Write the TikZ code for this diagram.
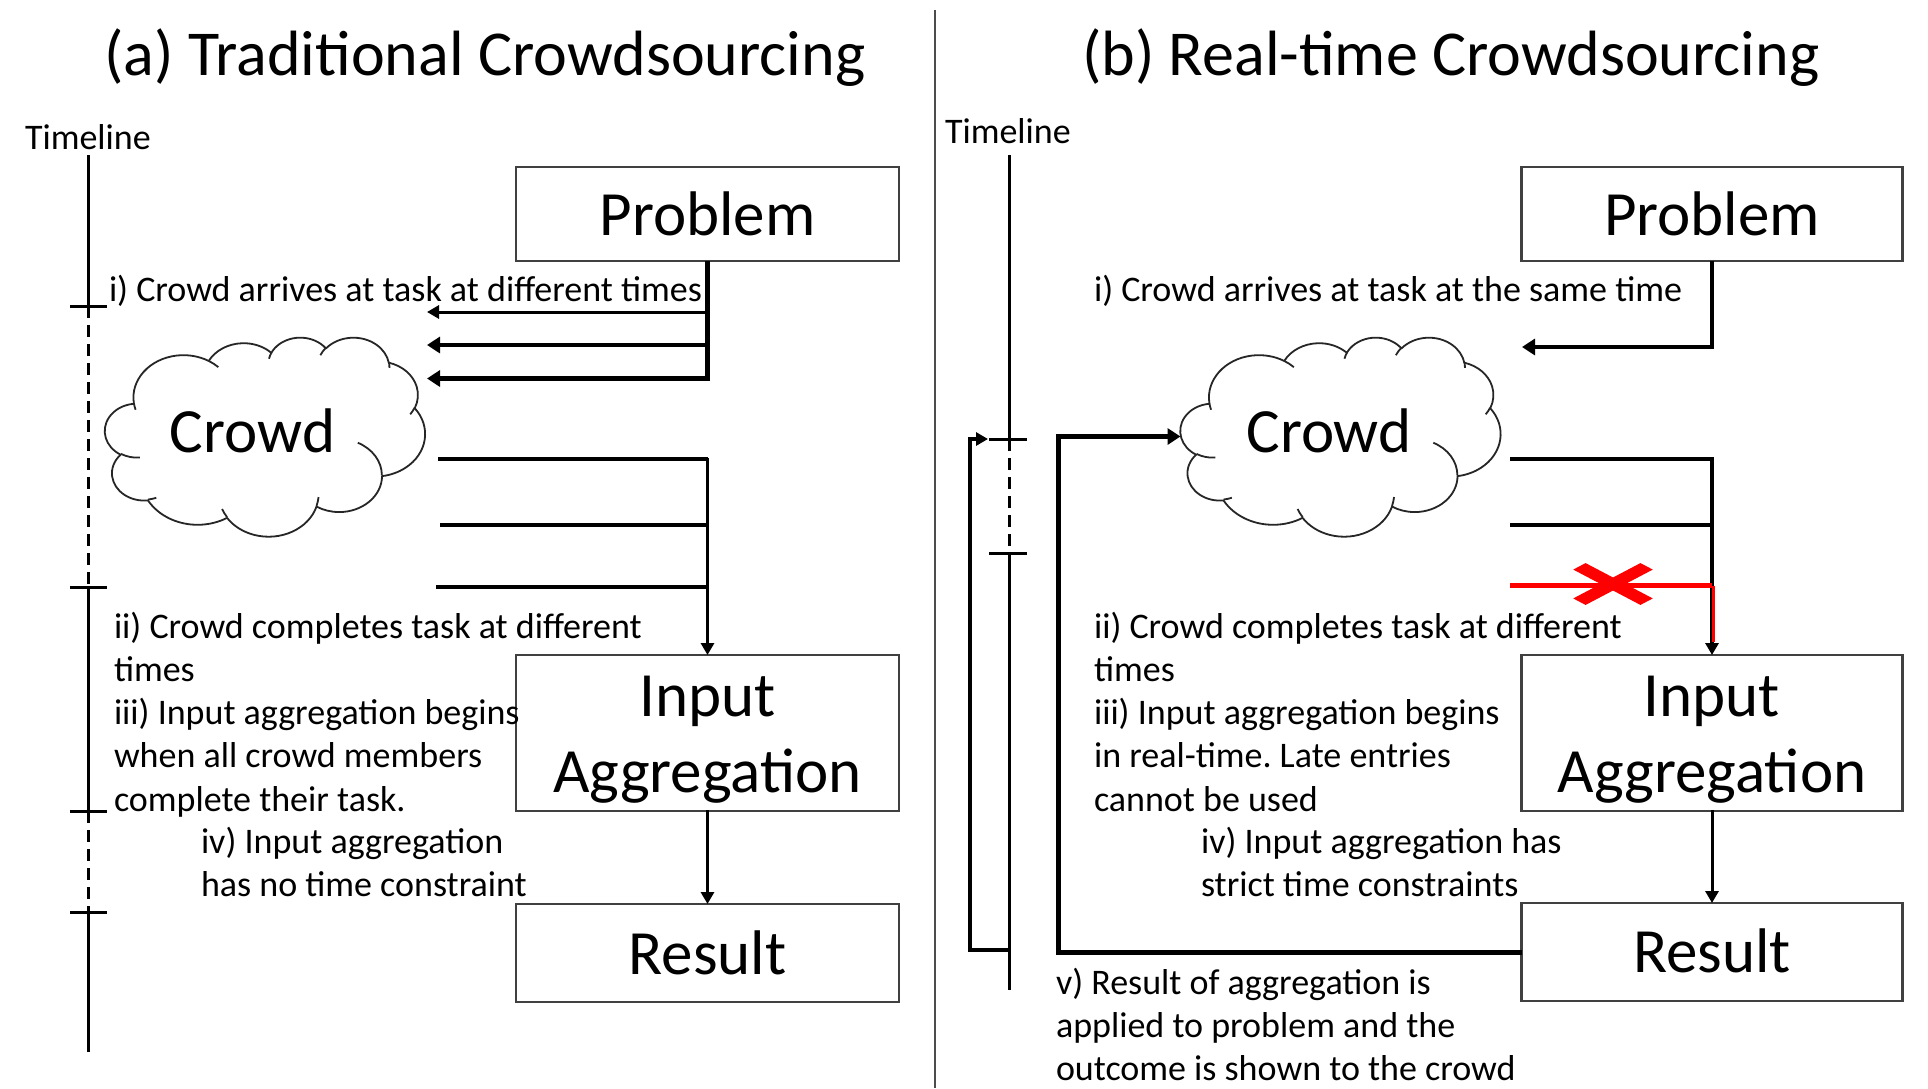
\documentclass[tikz,border=0pt]{standalone}
\usepackage{fontspec}
\setmainfont{Carlito}
\usetikzlibrary{arrows.meta}
\frenchspacing

% one arc of an OOXML-style cloud: x radius, y radius, start angle, sweep
% (angles are visual angles on the ellipse, converted to parametric ones)
\newcommand\ooarc[4]{%
  \pgfextra{%
    \pgfmathsetmacro\oosa{atan2((#1)*sin(#3),(#2)*cos(#3))}%
    \pgfmathsetmacro\ooea{atan2((#1)*sin((#3)+(#4)),(#2)*cos((#3)+(#4)))}%
    \pgfmathsetmacro\ooda{mod(\ooea-\oosa+720,360)}%
    \global\let\oosa\oosa \global\let\ooda\ooda}%
  arc[x radius=#1, y radius=#2, start angle=\oosa, delta angle=\ooda]}

% cloud outline in a 432 x 432 frame (y downwards)
\newcommand\cloudshape{%
  \draw[cloudline] (39,143.7)
    \ooarc{67.53}{91.90}{-190.4875}{123.7805}
    \ooarc{53.33}{72.67}{-144.1024}{89.9452}
    \ooarc{43.65}{59.45}{-145.8079}{99.7230}
    \ooarc{48.57}{65.95}{-130.9861}{117.2417}
    \ooarc{53.33}{72.73}{-78.7089}{109.0269}
    \ooarc{67.75}{92.20}{-46.2673}{130.2690}
    \ooarc{57.85}{78.67}{0.6250}{114.0333}
    \ooarc{67.52}{92.15}{22.4516}{115.1726}
    \ooarc{77.20}{105.43}{66.2426}{75.7110}
    \ooarc{43.60}{59.18}{-274.9421}{146.7356}
    \ooarc{43.45}{59.45}{-246.8285}{152.5189}
    -- cycle;
  \draw[cloudline]
    (46.93,261.77) \ooarc{43.45}{59.45}{86.7420}{26.4295}
    (69.28,348.99) \ooarc{43.60}{59.18}{73.6105}{11.4475}
    (164.78,390.90) \ooarc{67.52}{92.15}{137.6242}{14.0811}
    (288.27,347.51) \ooarc{67.52}{92.15}{6.4533}{15.9984}
    (341.29,229.54) \ooarc{57.85}{78.67}{-70.2924}{70.2924}
    (417.98,153.54) \ooarc{53.33}{72.73}{30}{14.6485}
    (383.24,54.26) \ooarc{48.57}{65.95}{-13.7443}{14.8611}
    (290.78,39.52) \ooarc{48.57}{65.95}{-149.1815}{18.1954}
    (221.41,47.20) \ooarc{43.65}{59.45}{-163.4943}{17.6864}
    (140.00,51.92) \ooarc{67.53}{91.90}{-66.7070}{12.3194}
    (41.27,157.89) \ooarc{67.53}{91.90}{157.6544}{11.8582};}

\tikzset{
  every node/.style={inner sep=0pt, outer sep=0pt},
  box/.style={draw=black!75, line width=2.2pt},
  boxA/.style={box, minimum width=383pt},
  boxB/.style={box, minimum width=381pt},
  cloudframe/.style={minimum width=320pt, minimum height=199pt},
  cloudline/.style={draw=black!85, line width=1.8pt, line join=round},
  small/.style={font=\fontsize{36}{43.3}\selectfont, anchor=base west},
  big/.style={font=\fontsize{63}{76}\selectfont},
  heading/.style={font=\fontsize{64}{76}\selectfont, anchor=base west},
  conn/.style={line width=4.5pt},
  thinconn/.style={line width=3pt, line cap=rect},
  loopout/.style={line width=3.5pt},
  loopin/.style={line width=5pt},
  tipS/.style={-{Triangle[length=12pt,width=13pt]}},
  tipL/.style={-{Triangle[length=13pt,width=16pt]}},
  axis/.style={line width=3pt},
  axisgap/.style={line width=3pt, dash pattern=on 12pt off 7pt},
  separator/.style={draw=black!70, line width=1.6pt},
  cancel/.style={red, line width=4.5pt},
}

\begin{document}
\begin{tikzpicture}[x=1pt, y=-1pt]
\path[use as bounding box, fill=white] (0,0) rectangle (1928,1088);

% panel separator
\draw[separator] (935,10) -- (935,1088);

% titles
\node[heading] (titleA) at (104.5,75) {(a) Traditional Crowdsourcing};
\node[heading] (titleB) at (1082,75) {(b) Real-time Crowdsourcing};

% ---------------- (a) traditional ----------------
\node[small] (timeA) at (25,149) {Timeline};
\draw[axis] (88.5,155) -- (88.5,306);
\draw[axisgap] (88.5,306) -- (88.5,587);
\draw[axis] (88.5,587) -- (88.5,811);
\draw[axisgap] (88.5,811) -- (88.5,912);
\draw[axis] (88.5,912) -- (88.5,1052);
\foreach \ty in {306,587,811,912} \draw[axis] (70,\ty) -- (107,\ty);

\node[boxA, minimum height=94pt] (probA) at (707.5,214) {};
\node[big, anchor=base] (probAt) at (707.5,235) {Problem};
\node[boxA, minimum height=156pt] (aggA) at (707.5,733) {};
\node[big, anchor=base] (aggAt) at (707.5,716) {\begin{tabular}[t]{@{}c@{}}Input\\Aggregation\end{tabular}};
\node[boxA, minimum height=98pt] (resA) at (707.5,953) {};
\node[big, anchor=base] (resAt) at (707.5,974) {Result};

\node[cloudframe] (cloudA) at (265,436.5) {};
\begin{scope}[shift={(cloudA.north west)}, x=0.7407pt, y=-0.4606pt]
  \cloudshape
\end{scope}
\node[big, anchor=base] (crowdA) at (252.5,452) {Crowd};

\node[small] (stepAi) at (109,301) {i) Crowd arrives at task at different times};
\node[small] (stepAii) at (114,638) {\begin{tabular}[t]{@{}l@{}}ii) Crowd completes task at different\\times\\iii) Input aggregation begins\\when all crowd members\\complete their task.\end{tabular}};
\node[small] (stepAiv) at (201,853) {\begin{tabular}[t]{@{}l@{}}iv) Input aggregation\\has no time constraint\end{tabular}};

% problem handed to the crowd at different times
\coordinate (inA1) at (427,312);
\coordinate (inA2) at (427,345);
\coordinate (inA3) at (427,378.5);
\draw[conn, tipL] (probA.south) |- (inA3);
\draw[thinconn, line cap=butt, tipS] (probA.south |- inA1) -- (inA1);
\draw[conn, tipL] (probA.south |- inA2) -- (inA2);

% answers collected for aggregation
\coordinate (outA1) at (438,459);
\coordinate (outA2) at (440,525);
\coordinate (outA3) at (436,587);
\draw[conn] (outA1) -- (outA1 -| aggA.north);
\draw[conn] (outA2) -- (outA2 -| aggA.north);
\draw[conn] (outA3) -- (outA3 -| aggA.north);
\draw[thinconn, tipS] (outA1 -| aggA.north) -- (aggA.north);
\draw[thinconn, tipS] (aggA.south) -- (resA.north);

% ---------------- (b) real-time ----------------
\node[small] (timeB) at (945,143) {Timeline};
\draw[axis] (1009,155) -- (1009,439);
\draw[axisgap] (1009,439) -- (1009,553);
\draw[axis] (1009,553) -- (1009,990);
\foreach \ty in {439,553} \draw[axis] (989,\ty) -- (1027,\ty);

\node[boxB, minimum height=94pt] (probB) at (1712,214) {};
\node[big, anchor=base] (probBt) at (1712,235) {Problem};
\node[boxB, minimum height=156pt] (aggB) at (1712,733) {};
\node[big, anchor=base] (aggBt) at (1712,716) {\begin{tabular}[t]{@{}c@{}}Input\\Aggregation\end{tabular}};
\node[boxB, minimum height=98pt] (resB) at (1712,952) {};
\node[big, anchor=base] (resBt) at (1712,972) {Result};

\node[cloudframe] (cloudB) at (1340.5,436.5) {};
\begin{scope}[shift={(cloudB.north west)}, x=0.7407pt, y=-0.4606pt]
  \cloudshape
\end{scope}
\node[big, anchor=base] (crowdB) at (1329,452) {Crowd};

\node[small] (stepBi) at (1094,301) {i) Crowd arrives at task at the same time};
\node[small] (stepBii) at (1094,638) {\begin{tabular}[t]{@{}l@{}}ii) Crowd completes task at different\\times\\iii) Input aggregation begins\\in real-time. Late entries\\cannot be used\end{tabular}};
\node[small] (stepBiv) at (1201,853) {\begin{tabular}[t]{@{}l@{}}iv) Input aggregation has\\strict time constraints\end{tabular}};
\node[small] (stepBv) at (1056,994) {\begin{tabular}[t]{@{}l@{}}v) Result of aggregation is\\applied to problem and the\\outcome is shown to the crowd\end{tabular}};

% problem handed to the whole crowd at once
\coordinate (inB) at (1522,347);
\draw[conn, tipL] (probB.south) |- (inB);

% answers: two in time, one late and discarded
\coordinate (outB1) at (1510,459);
\coordinate (outB2) at (1510,525);
\coordinate (outB3) at (1510,585.5);
\draw[conn] (outB1) -- (outB1 -| aggB.north);
\draw[conn] (outB2) -- (outB2 -| aggB.north);
\draw[conn, line cap=rect, tipS] (outB1 -| aggB.north) -- (aggB.north);
\draw[cancel] (outB3) -- (outB3 -| aggB.north);
\coordinate (lateTop) at (1713.5,585.5);
\coordinate (lateBot) at (1713.5,642);
\draw[red, line width=3pt] (lateTop) -- (lateBot);
\begin{scope}[shift={(1613,584)}, xscale=1.9]
  \fill[red, rotate=45] (-25,-4.6) rectangle (25,4.6);
  \fill[red, rotate=-45] (-25,-4.6) rectangle (25,4.6);
\end{scope}
\draw[thinconn, tipS] (aggB.south) -- (resB.north);

% result fed back to the crowd
\coordinate (fbIn) at (1058.5,436.5);
\draw[loopin, tipL] (resB.west) -| (fbIn) -- (cloudB.west);

% feedback moves the timeline back
\coordinate (tlLow) at (1009,950);
\coordinate (fbOut) at (970,439);
\coordinate (tlTip) at (988,439);
\draw[loopout, tipS] (tlLow) -| (fbOut) -- (tlTip);
\end{tikzpicture}
\end{document}
